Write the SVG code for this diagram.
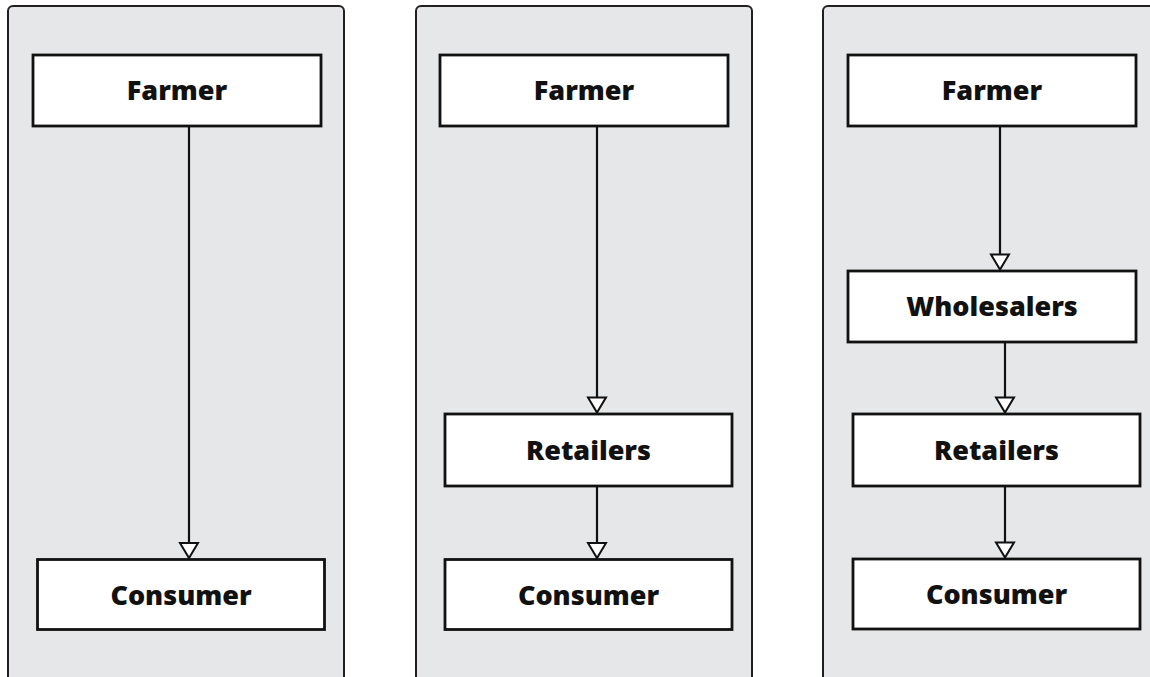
<svg xmlns="http://www.w3.org/2000/svg" width="1150" height="677" viewBox="0 0 1150 677">
  <style>
    .panel { fill: #e6e7e8; stroke: #231f20; stroke-width: 2; }
    .box { fill: #ffffff; stroke: #111111; stroke-width: 2.8; }
    .label { font-family: "Open Sans", "Liberation Sans", sans-serif; font-weight: 800; font-size: 27px; fill: #111111; text-anchor: middle; }
    .flow { fill: none; stroke: #111111; stroke-width: 2.2; marker-end: url(#hollow-arrow); }
  </style>
  <defs>
    <marker id="hollow-arrow" markerUnits="userSpaceOnUse" viewBox="-17 -11 19 22" refX="0" refY="0" markerWidth="19" markerHeight="22" orient="auto">
      <path d="M-15,-9 L0,0 L-15,9 Z" fill="#ffffff" stroke="#111111" stroke-width="2" stroke-linejoin="miter"/>
    </marker>
  </defs>

  <!-- channel panels -->
  <g id="panels">
    <rect class="panel" x="8" y="6" width="336" height="700" rx="5"/>
    <rect class="panel" x="416" y="6" width="336" height="700" rx="5"/>
    <rect class="panel" x="823" y="6" width="336" height="700" rx="5"/>
  </g>

  <!-- connectors -->
  <g id="connectors">
    <line class="flow" x1="189" y1="127" x2="189" y2="558"/>
    <line class="flow" x1="597" y1="127" x2="597" y2="412.5"/>
    <line class="flow" x1="597" y1="487" x2="597" y2="558"/>
    <line class="flow" x1="1000" y1="127" x2="1000" y2="269.5"/>
    <line class="flow" x1="1005" y1="343" x2="1005" y2="412.5"/>
    <line class="flow" x1="1005" y1="487" x2="1005" y2="557.5"/>
  </g>

  <!-- direct channel -->
  <g id="p1-farmer">
    <rect class="box" x="33" y="55" width="288" height="71"/>
    <text class="label" x="177" y="100">Farmer</text>
  </g>
  <g id="p1-consumer">
    <rect class="box" x="37.5" y="559.5" width="287" height="70"/>
    <text class="label" x="181" y="604.5">Consumer</text>
  </g>

  <!-- one-level channel -->
  <g id="p2-farmer">
    <rect class="box" x="440" y="55" width="288" height="71"/>
    <text class="label" x="584" y="100">Farmer</text>
  </g>
  <g id="p2-retailers">
    <rect class="box" x="445" y="414" width="287" height="72"/>
    <text class="label" x="588.5" y="460">Retailers</text>
  </g>
  <g id="p2-consumer">
    <rect class="box" x="445" y="559.5" width="287" height="70"/>
    <text class="label" x="588.5" y="604.5">Consumer</text>
  </g>

  <!-- two-level channel -->
  <g id="p3-farmer">
    <rect class="box" x="848" y="55" width="288" height="71"/>
    <text class="label" x="992" y="100">Farmer</text>
  </g>
  <g id="p3-wholesalers">
    <rect class="box" x="848" y="271" width="288" height="71"/>
    <text class="label" x="992" y="316">Wholesalers</text>
  </g>
  <g id="p3-retailers">
    <rect class="box" x="853" y="414" width="287" height="72"/>
    <text class="label" x="996.5" y="460">Retailers</text>
  </g>
  <g id="p3-consumer">
    <rect class="box" x="853" y="559" width="287" height="70"/>
    <text class="label" x="996.5" y="604">Consumer</text>
  </g>
</svg>
